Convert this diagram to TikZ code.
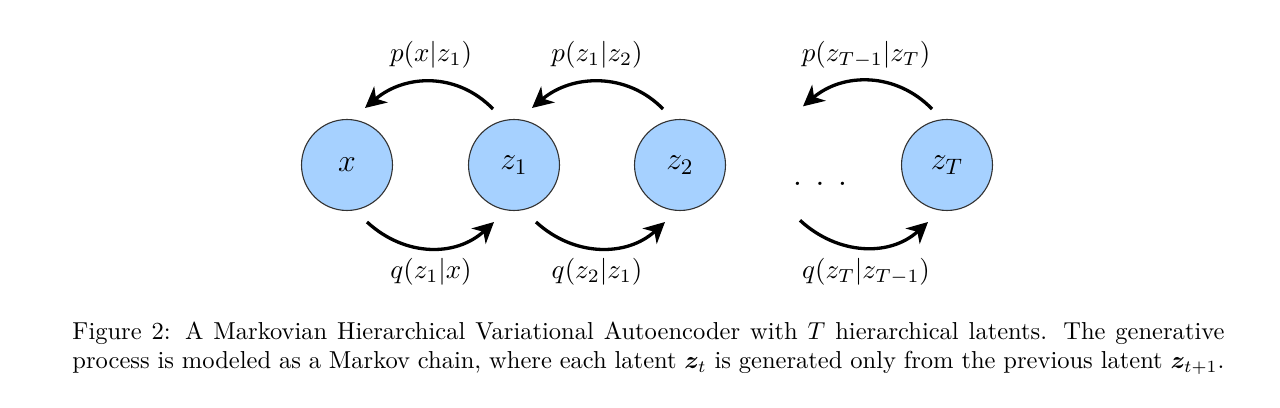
\RequirePackage{fix-cm}
\documentclass[tikz,border=0pt]{standalone}
\usepackage{amsmath,bm}
\usetikzlibrary{arrows.meta,calc}
\definecolor{latentfill}{RGB}{166,209,255}
\tikzset{
  latent/.style={circle,draw=black!80,line width=0.45pt,fill=latentfill,minimum size=37.1pt,inner sep=0pt,font=\fontsize{13}{15}\selectfont},
  flow/.style={line width=1.35pt,-{Stealth[length=8.5pt,width=8.5pt,inset=2.6pt]}},
  lbl/.style={inner sep=0pt,font=\fontsize{11}{13}\selectfont}
}
\begin{document}
\begin{tikzpicture}[x=0.4078pt,y=-0.4078pt]
\useasboundingbox (0,0) rectangle (1280,408);
\node[latent] (x) at (347,165) {$x$};
\node[latent] (z1) at (514,165) {$z_1$};
\node[latent] (z2) at (680,165) {$z_2$};
\node[latent] (zT) at (947,165) {$z_T$};
\node[inner sep=0pt,anchor=base,font=\fontsize{14}{16}\selectfont] (dots) at (820,186) {.\hspace{5.4pt}.\hspace{5.4pt}.};
% endpoints
\coordinate (t1s) at ($(z1)+(-21,-56)$);
\coordinate (t1e) at ($(x)+(18,-57)$);
\coordinate (b1s) at ($(x)+(20,57)$);
\coordinate (b1e) at ($(z1)+(-20,57)$);
\coordinate (t2s) at ($(z2)+(-17,-56)$);
\coordinate (t2e) at ($(z1)+(18,-57)$);
\coordinate (b2s) at ($(z1)+(22,57)$);
\coordinate (b2e) at ($(z2)+(-15,57)$);
\coordinate (t3s) at ($(zT)+(-15,-56)$);
\coordinate (t3e) at ($(dots)+(-17,-78)$);
\coordinate (b3s) at ($(dots)+(-20,36)$);
\coordinate (b3e) at ($(zT)+(-19,57)$);
\draw[flow] (t1s) .. controls +(-36,-37) and +(40,-34) .. (t1e);
\draw[flow] (b1s) .. controls +(38,35) and +(-38,35) .. (b1e);
\draw[flow] (t2s) .. controls +(-36,-37) and +(40,-34) .. (t2e);
\draw[flow] (b2s) .. controls +(38,35) and +(-38,35) .. (b2e);
\draw[flow] (t3s) .. controls +(-36,-37) and +(40,-34) .. (t3e);
\draw[flow] (b3s) .. controls +(38,35) and +(-38,35) .. (b3e);
\node[lbl] (l1) at (431,55) {$p(x|z_1)$};
\node[lbl] (l2) at (431,272) {$q(z_1|x)$};
\node[lbl] (l3) at (597,55) {$p(z_1|z_2)$};
\node[lbl] (l4) at (597,272) {$q(z_2|z_1)$};
\node[lbl] (l5) at (866,55) {$p(z_{T-1}|z_T)$};
\node[lbl] (l6) at (866,272) {$q(z_T|z_{T-1})$};
\node[anchor=north west,inner sep=0pt,text width=469.8pt,align=justify,font=\fontsize{10}{12}\selectfont] (cap) at (72,321)
{Figure 2: A Markovian Hierarchical Variational Autoencoder with $T$ hierarchical latents. The generative process is modeled as a Markov chain, where each latent $\boldsymbol{z}_t$ is generated only from the previous latent $\boldsymbol{z}_{t+1}$.};
\end{tikzpicture}
\end{document}
